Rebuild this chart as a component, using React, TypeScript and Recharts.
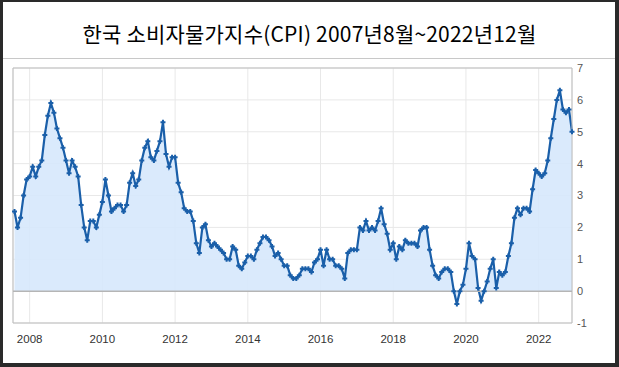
import React from "react";
import {
  ComposedChart,
  Area,
  XAxis,
  YAxis,
  CartesianGrid,
  ReferenceLine,
  ReferenceArea,
} from "recharts";

// Monthly CPI year-on-year change (%), Aug 2007 – Dec 2022, as plotted
const values2007: number[] = [2.5, 2.0, 2.3, 3.0, 3.5];
const values2008: number[] = [3.6, 3.9, 3.6, 3.9, 4.1, 4.9, 5.5, 5.9, 5.6, 5.1, 4.8, 4.5];
const values2009: number[] = [4.1, 3.7, 4.1, 3.9, 3.6, 2.7, 2.0, 1.6, 2.2, 2.2, 2.0, 2.4];
const values2010: number[] = [2.8, 3.5, 3.0, 2.5, 2.6, 2.7, 2.7, 2.5, 2.7, 3.4, 3.7, 3.3];
const values2011: number[] = [3.5, 4.1, 4.5, 4.7, 4.2, 4.1, 4.4, 4.7, 5.3, 4.3, 3.9, 4.2];
const values2012: number[] = [4.2, 3.4, 3.1, 2.6, 2.5, 2.5, 2.2, 1.5, 1.2, 2.0, 2.1, 1.6];
const values2013: number[] = [1.4, 1.5, 1.4, 1.3, 1.2, 1.0, 1.0, 1.4, 1.3, 0.8, 0.7, 0.9];
const values2014: number[] = [1.1, 1.1, 1.0, 1.3, 1.5, 1.7, 1.7, 1.6, 1.4, 1.1, 1.2, 1.0];
const values2015: number[] = [0.8, 0.8, 0.5, 0.4, 0.4, 0.5, 0.7, 0.7, 0.7, 0.6, 0.9, 1.0];
const values2016: number[] = [1.3, 0.8, 1.3, 1.0, 1.0, 0.8, 0.8, 0.7, 0.4, 1.2, 1.3, 1.3];
const values2017: number[] = [1.3, 2.0, 1.9, 2.2, 1.9, 2.0, 1.9, 2.2, 2.6, 2.1, 1.8, 1.3];
const values2018: number[] = [1.5, 1.0, 1.4, 1.3, 1.6, 1.5, 1.5, 1.5, 1.4, 1.9, 2.0, 2.0];
const values2019: number[] = [1.3, 0.8, 0.5, 0.4, 0.6, 0.7, 0.7, 0.6, 0.0, -0.4, 0.0, 0.2];
const values2020: number[] = [0.7, 1.5, 1.1, 1.0, 0.1, -0.3, 0.0, 0.3, 0.7, 1.0, 0.1, 0.6];
const values2021: number[] = [0.5, 0.6, 1.1, 1.5, 2.3, 2.6, 2.4, 2.6, 2.6, 2.5, 3.2, 3.8];
const values2022: number[] = [3.7, 3.6, 3.7, 4.1, 4.8, 5.4, 6.0, 6.3, 5.7, 5.6, 5.7, 5.0];

const allValues: number[] = [
  ...values2007, ...values2008, ...values2009, ...values2010, ...values2011,
  ...values2012, ...values2013, ...values2014, ...values2015, ...values2016,
  ...values2017, ...values2018, ...values2019, ...values2020, ...values2021,
  ...values2022,
];

// x-axis tick labels (January of even years)
const tickYears: number[] = [2008, 2010, 2012, 2014, 2016, 2018, 2020, 2022];
const yTicks: number[] = [-1, 0, 1, 2, 3, 4, 5, 6, 7];

const START_YEAR = 2007;
const START_MONTH = 8;
const monthIndex = (y: number, m: number) => (y - START_YEAR) * 12 + (m - START_MONTH);

const data = allValues.map((v, i) => ({ t: i, v }));
const xTicks = tickYears.map((y) => monthIndex(y, 1));

const TITLE = "한국 소비자물가지수(CPI) 2007년8월~2022년12월";
const LINE = "#1a5fa9";
const FILL = "#d6e8fc";

const Marker = (p: any) => {
  const { cx, cy, index } = p;
  if (cx == null || cy == null) return <g key={`m${index}`} />;
  return (
    <path
      key={`m${index}`}
      d={`M${cx - 2.5},${cy}h5M${cx},${cy - 2.5}v5`}
      stroke={LINE}
      strokeWidth={2}
      fill="none"
    />
  );
};

export default function App() {
  const axisFont = "'Liberation Sans', Arial, sans-serif";
  return (
    <div
      style={{
        position: "absolute",
        left: 0,
        top: 0,
        width: 619,
        height: 367,
        background: "#fff",
        overflow: "hidden",
      }}
    >
      <div
        style={{
          position: "absolute",
          left: 0,
          top: 20,
          width: 619,
          height: 26,
          lineHeight: "26px",
          textAlign: "center",
          fontFamily: "'Noto Sans CJK KR', sans-serif",
          fontSize: 21,
          letterSpacing: 0.2,
          color: "#000",
          whiteSpace: "nowrap",
        }}
      >
        {TITLE}
      </div>
      <div
        style={{
          position: "absolute",
          left: 3,
          top: 58,
          width: 612,
          height: 1,
          background: "#c8c8c8",
        }}
      />
      <div style={{ position: "absolute", left: 0, top: 0 }}>
        <ComposedChart
          width={619}
          height={367}
          data={data}
          margin={{ top: 68, right: 0, bottom: 14, left: 13 }}
        >
          <CartesianGrid stroke="#e8e8e8" />
          <XAxis
            dataKey="t"
            type="number"
            domain={[-0.5, allValues.length - 1]}
            ticks={xTicks}
            interval={0}
            height={30}
            axisLine={false}
            tickLine={false}
            tickSize={0}
            tickMargin={12}
            tickFormatter={(v: number) => String(START_YEAR + Math.floor((v + START_MONTH - 1) / 12))}
            tick={{ fill: "#333", fontSize: 11.5, fontFamily: axisFont }}
          />
          <YAxis
            orientation="right"
            domain={[-1, 7]}
            ticks={yTicks}
            interval={0}
            width={47}
            axisLine={false}
            tickLine={false}
            tickSize={0}
            tickMargin={5}
            tick={{ fill: "#555", fontSize: 11, fontFamily: axisFont, textAnchor: "start" }}
          />
          <Area
            type="linear"
            dataKey="v"
            stroke={LINE}
            strokeWidth={2.2}
            fill={FILL}
            fillOpacity={0.9}
            dot={Marker}
            activeDot={false}
            isAnimationActive={false}
          />
          <ReferenceLine y={0} stroke="#b5b5b5" strokeWidth={1.5} />
          <ReferenceArea
            x1={-0.5}
            x2={allValues.length - 1}
            y1={-1}
            y2={7}
            fill="none"
            stroke="#bdbdbd"
            strokeOpacity={1}
          />
        </ComposedChart>
      </div>
      <div
        style={{
          position: "absolute",
          left: 0,
          top: 0,
          width: 619,
          height: 367,
          boxSizing: "border-box",
          borderLeft: "3px solid #2a2a2a",
          borderTop: "2px solid #2a2a2a",
          borderRight: "4px solid #2a2a2a",
          borderBottom: "4px solid #2a2a2a",
          pointerEvents: "none",
        }}
      />
    </div>
  );
}
